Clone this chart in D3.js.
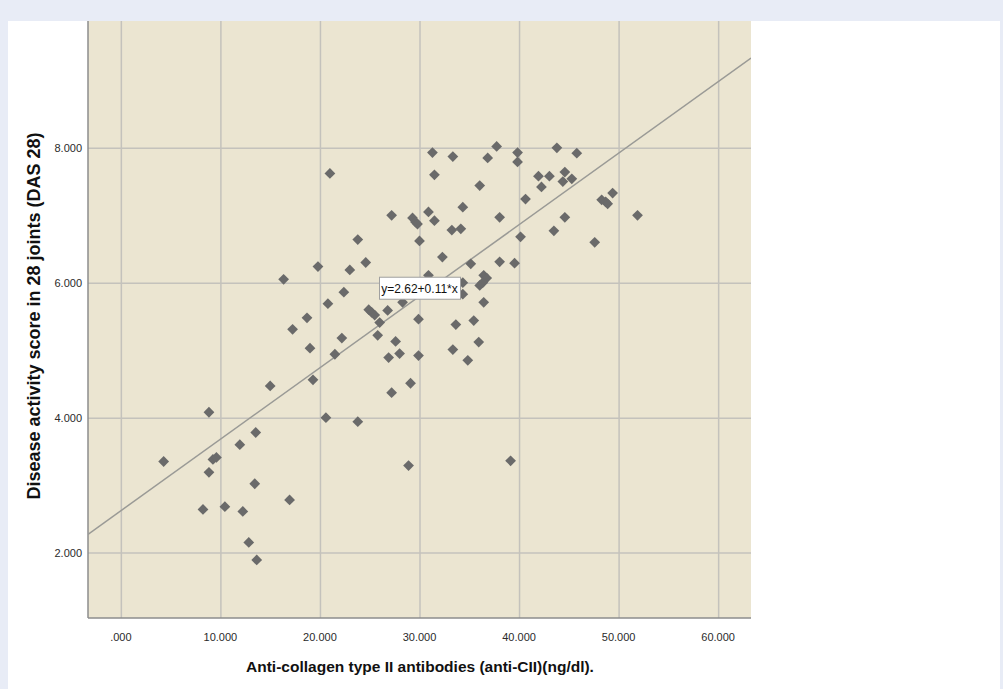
<!DOCTYPE html>
<html>
<head>
<meta charset="utf-8">
<script src="https://cdn.jsdelivr.net/npm/d3@7"></script>
<style>
  body { margin: 0; padding: 0; background: #e8ecf6; }
  svg { display: block; }
</style>
</head>
<body>
<svg id="chart"></svg>
<script>
// anti-CII (ng/dl) vs DAS 28
var antiCII = [
  4.3, 8.85, 9.25, 9.6, 8.85, 11.95, 13.55, 13.45, 8.25, 10.45,
  12.25, 16.95, 12.85, 13.65, 15.0, 19.3, 21.0, 23.8, 24.6, 19.8,
  23.0, 16.35, 22.4, 20.8, 18.7, 17.25, 24.9, 25.2, 25.5, 22.2,
  19.0, 21.5, 25.8, 31.3, 33.35, 36.85, 37.75, 31.5, 36.05, 27.2,
  30.9, 34.35, 31.5, 29.3, 29.6, 29.8, 33.25, 34.15, 30.0, 32.3,
  35.15, 30.9, 34.35, 34.35, 36.45, 36.75, 36.35, 36.05, 36.45, 28.3,
  26.8, 26.0, 29.9, 33.65, 35.45, 27.6, 35.95, 33.35, 26.9, 28.0,
  29.9, 34.85, 29.1, 27.2, 20.6, 23.8, 28.9, 39.15, 39.85, 39.85,
  43.8, 45.8, 41.95, 43.05, 42.25, 44.6, 44.4, 45.3, 40.65, 38.05,
  44.6, 43.5, 40.15, 38.05, 39.55, 48.3, 48.7, 48.9, 49.4, 51.9,
  47.6
];
var das28 = [
  3.35, 4.08, 3.38, 3.41, 3.19, 3.60, 3.78, 3.02, 2.64, 2.68,
  2.61, 2.78, 2.15, 1.89, 4.47, 4.56, 7.62, 6.64, 6.30, 6.24,
  6.19, 6.05, 5.86, 5.69, 5.48, 5.31, 5.60, 5.56, 5.52, 5.18,
  5.03, 4.94, 5.22, 7.93, 7.87, 7.85, 8.02, 7.60, 7.44, 7.00,
  7.05, 7.12, 6.92, 6.96, 6.90, 6.87, 6.78, 6.80, 6.62, 6.38,
  6.28, 6.11, 6.00, 5.83, 6.11, 6.07, 6.00, 5.96, 5.71, 5.71,
  5.59, 5.41, 5.46, 5.38, 5.44, 5.13, 5.12, 5.01, 4.89, 4.95,
  4.92, 4.85, 4.51, 4.37, 4.00, 3.94, 3.29, 3.36, 7.93, 7.79,
  8.00, 7.92, 7.58, 7.58, 7.42, 7.64, 7.50, 7.54, 7.24, 6.97,
  6.97, 6.77, 6.68, 6.31, 6.29, 7.23, 7.20, 7.17, 7.33, 7.00,
  6.60
];

// fit line as drawn, and its label
var fitIntercept = 2.62;
var fitSlope = 0.106;
var fitLabel = "y=2.62+0.11*x";

var xTicks = [0, 10, 20, 30, 40, 50, 60];
var xTickLabels = [".000", "10.000", "20.000", "30.000", "40.000", "50.000", "60.000"];
var yTicks = [2, 4, 6, 8];
var yTickLabels = ["2.000", "4.000", "6.000", "8.000"];

var xTitle = "Anti-collagen type II antibodies (anti-CII)(ng/dl).";
var yTitle = "Disease activity score in 28 joints (DAS 28)";

var width = 1003, height = 689;
var plot = { left: 88, right: 751, top: 21, bottom: 618 };
var font = "Liberation Sans, Arial, sans-serif";

var svg = d3.select("#chart")
  .attr("width", width)
  .attr("height", height);

// outer frame + white panel
svg.append("rect")
  .attr("width", width)
  .attr("height", height)
  .attr("fill", "#e8ecf6");
svg.append("rect")
  .attr("x", 8)
  .attr("y", 21)
  .attr("width", 992)
  .attr("height", height - 21)
  .attr("fill", "#ffffff");

var x = d3.scaleLinear()
  .domain([-3.3, 63.3])
  .range([plot.left, plot.right]);
var y = d3.scaleLinear()
  .domain([1.03, 9.88])
  .range([plot.bottom, plot.top]);

svg.append("rect")
  .attr("x", plot.left)
  .attr("y", plot.top)
  .attr("width", plot.right - plot.left)
  .attr("height", plot.bottom - plot.top)
  .attr("fill", "#ebe5d1");

svg.append("clipPath").attr("id", "plotclip")
  .append("rect")
  .attr("x", plot.left)
  .attr("y", plot.top)
  .attr("width", plot.right - plot.left)
  .attr("height", plot.bottom - plot.top);

// grid
svg.append("g")
  .attr("transform", "translate(0," + plot.bottom + ")")
  .call(d3.axisBottom(x).tickValues(xTicks).tickSize(-(plot.bottom - plot.top)).tickFormat(""))
  .call(function(g) {
    g.select(".domain").remove();
    g.selectAll("line").attr("stroke", "#c4c2bc").attr("stroke-width", 1.5);
  });
svg.append("g")
  .attr("transform", "translate(" + plot.left + ",0)")
  .call(d3.axisLeft(y).tickValues(yTicks).tickSize(-(plot.right - plot.left)).tickFormat(""))
  .call(function(g) {
    g.select(".domain").remove();
    g.selectAll("line").attr("stroke", "#c4c2bc").attr("stroke-width", 1.5);
  });

// axis lines
svg.append("line")
  .attr("x1", plot.left).attr("x2", plot.left)
  .attr("y1", plot.top).attr("y2", plot.bottom)
  .attr("stroke", "#8c8c8c").attr("stroke-width", 1.5);
svg.append("line")
  .attr("x1", plot.left).attr("x2", plot.right)
  .attr("y1", plot.bottom).attr("y2", plot.bottom)
  .attr("stroke", "#8c8c8c").attr("stroke-width", 1.5);

// tick labels
svg.append("g")
  .selectAll("text")
  .data(xTicks)
  .join("text")
  .attr("x", function(d) { return x(d); })
  .attr("y", 641)
  .attr("text-anchor", "middle")
  .attr("font-family", font)
  .attr("font-size", 11)
  .attr("fill", "#2a2a2a")
  .text(function(d, i) { return xTickLabels[i]; });

svg.append("g")
  .selectAll("text")
  .data(yTicks)
  .join("text")
  .attr("x", 82)
  .attr("y", function(d) { return y(d) + 4; })
  .attr("text-anchor", "end")
  .attr("font-family", font)
  .attr("font-size", 11)
  .attr("fill", "#2a2a2a")
  .text(function(d, i) { return yTickLabels[i]; });

// titles
svg.append("text")
  .attr("x", 420)
  .attr("y", 672)
  .attr("text-anchor", "middle")
  .attr("font-family", font)
  .attr("font-size", 15.5)
  .attr("font-weight", "bold")
  .attr("fill", "#111")
  .text(xTitle);

svg.append("text")
  .attr("transform", "translate(40,316) rotate(-90)")
  .attr("text-anchor", "middle")
  .attr("font-family", font)
  .attr("font-size", 18)
  .attr("font-weight", "bold")
  .attr("fill", "#111")
  .text(yTitle);

// fit line
var lineX = x.domain();
svg.append("line")
  .attr("clip-path", "url(#plotclip)")
  .attr("x1", x(lineX[0]))
  .attr("y1", y(fitIntercept + fitSlope * lineX[0]))
  .attr("x2", x(lineX[1]))
  .attr("y2", y(fitIntercept + fitSlope * lineX[1]))
  .attr("stroke", "#9a9a96")
  .attr("stroke-width", 1.5);

// points (diamonds = rotated squares)
var diamond = d3.symbol().type(d3.symbolSquare).size(58);
svg.append("g")
  .selectAll("path")
  .data(antiCII)
  .join("path")
  .attr("d", diamond)
  .attr("transform", function(d, i) {
    return "translate(" + x(d) + "," + y(das28[i]) + ") rotate(45)";
  })
  .attr("fill", "#6a6a6a");

// fit label box
var labelX = 30;
var lbl = svg.append("g")
  .attr("transform", "translate(" + x(labelX) + "," + (y(fitIntercept + fitSlope * labelX) - 8) + ")");
lbl.append("rect")
  .attr("x", -40)
  .attr("y", -11)
  .attr("width", 81)
  .attr("height", 22)
  .attr("fill", "#fff")
  .attr("stroke", "#a0a0a0")
  .attr("stroke-width", 1);
lbl.append("text")
  .attr("x", 0)
  .attr("y", 4.5)
  .attr("text-anchor", "middle")
  .attr("font-family", font)
  .attr("font-size", 12)
  .attr("fill", "#111")
  .text(fitLabel);
</script>
</body>
</html>
